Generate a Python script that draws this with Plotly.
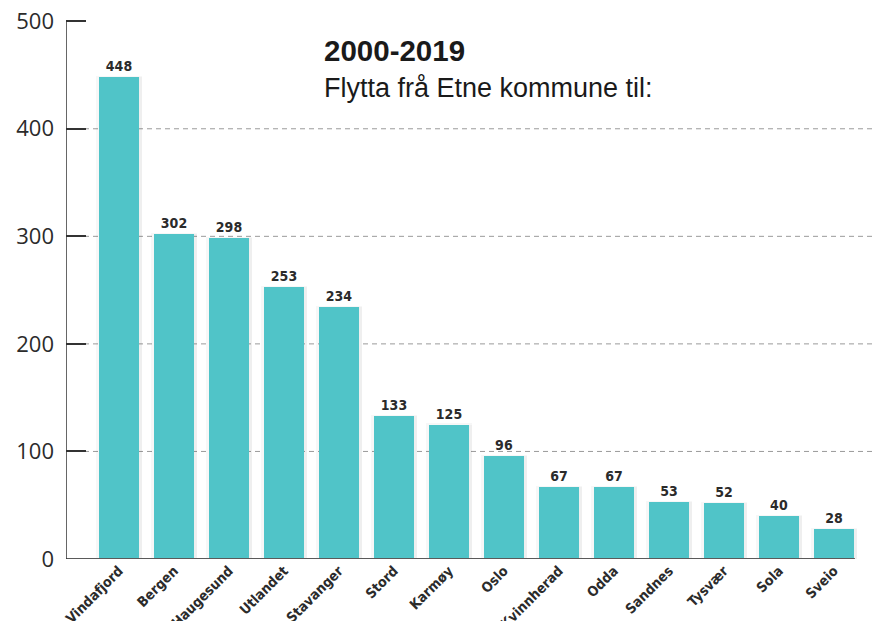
import plotly.graph_objects as go

categories = ["Vindafjord", "Bergen", "Haugesund", "Utlandet", "Stavanger", "Stord",
              "Karmøy", "Oslo", "Kvinnherad", "Odda", "Sandnes", "Tysvær", "Sola", "Sveio"]
values = [448, 302, 298, 253, 234, 133, 125, 96, 67, 67, 53, 52, 40, 28]
y_ticks = [0, 100, 200, 300, 400, 500]
title_bold = "2000-2019"
title_sub = "Flytta frå Etne kommune til:"

BAR = "#50C4C8"
COND = "DejaVu Sans Condensed"
idx = list(range(len(categories)))
X0 = -0.964
X1 = X0 + 822 / 55.0

fig = go.Figure()
# soft shadow
fig.add_trace(go.Bar(x=idx, y=[v + 1 for v in values], width=0.84,
                     marker=dict(color="rgba(0,0,0,0.03)", line=dict(width=0)),
                     hoverinfo="skip", showlegend=False))
fig.add_trace(go.Bar(x=[i + 0.02 for i in idx], y=values, width=0.78,
                     marker=dict(color="rgba(0,0,0,0.03)", line=dict(width=0)),
                     hoverinfo="skip", showlegend=False))
fig.add_trace(go.Bar(x=idx, y=values, width=0.727,
                     marker=dict(color=BAR, line=dict(width=0)),
                     text=[str(v) for v in values], textposition="outside",
                     textfont=dict(family=COND, size=14, color="#2b2b2b", weight="bold"),
                     cliponaxis=False, showlegend=False))

# dashed gridlines (interior ticks only)
for t in y_ticks[1:-1]:
    fig.add_shape(type="line", xref="x", yref="y", x0=X0, x1=X1, y0=t, y1=t, layer="below",
                  line=dict(color="#9a9a9a", width=1, dash="5px,4px"))

fig.add_shape(type="line", xref="x", yref="y", x0=X0, x1=13.38, y0=0, y1=0,
              line=dict(color="#5a5a5a", width=2))
fig.add_shape(type="line", xref="x", yref="y", x0=X0, x1=X0, y0=0, y1=y_ticks[-1],
              line=dict(color="#333333", width=1.5))

fig.add_annotation(xref="x", yref="y", x=X0 + 256 / 55.0, y=473, xanchor="left", yanchor="middle",
                   text="<b>" + title_bold + "</b>", showarrow=False,
                   font=dict(family="Liberation Sans", size=29.5, color="#1a1a1a"))
fig.add_annotation(xref="x", yref="y", x=X0 + 256 / 55.0, y=437.5, xanchor="left", yanchor="middle",
                   text=title_sub, showarrow=False,
                   font=dict(family="Liberation Sans", size=27, color="#1a1a1a"))

fig.update_layout(
    width=880, height=621,
    margin=dict(l=58, r=0, t=10, b=70, autoexpand=False),
    plot_bgcolor="white", paper_bgcolor="white",
    barmode="overlay", bargap=0,
    xaxis=dict(range=[X0, X1], tickmode="array", tickvals=idx, ticktext=categories,
               tickangle=-45, showgrid=False, zeroline=False, showline=False, ticks="",
               automargin=False,
               tickfont=dict(family=COND, size=14, color="#2b2b2b", weight="bold")),
    yaxis=dict(range=[0, 503], tickvals=y_ticks, ticktext=[str(t) for t in y_ticks],
               showgrid=False, zeroline=False, showline=False, automargin=False,
               ticks="inside", ticklen=20, tickcolor="#333333", tickwidth=1.5,
               ticklabelstandoff=11, ticklabeloverflow="allow",
               tickfont=dict(family="Open Sans", size=22, color="#2b2b2b")),
)
fig.write_html("out.html")
